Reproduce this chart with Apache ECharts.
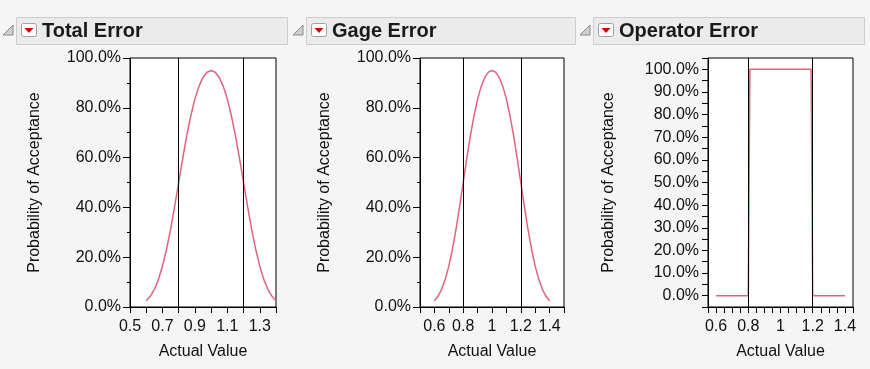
<!DOCTYPE html>
<html>
<head>
<meta charset="utf-8">
<script src="https://cdn.jsdelivr.net/npm/echarts@6/dist/echarts.min.js"></script>
<style>
html,body{margin:0;padding:0;background:#f5f5f5;}
#chart{width:870px;height:369px;}
</style>
</head>
<body>
<div id="chart"></div>
<script>
// ---- data ----
const panelTitles = ['Total Error', 'Gage Error', 'Operator Error'];
const xAxisTitle = 'Actual Value';
const yAxisTitle = 'Probability of Acceptance';
const specLimits = [0.8, 1.2];

const curveX = [0.6, 0.625, 0.65, 0.675, 0.7, 0.725, 0.75, 0.775, 0.8, 0.825, 0.85, 0.875, 0.9, 0.925, 0.95, 0.975,
                1.0, 1.025, 1.05, 1.075, 1.1, 1.125, 1.15, 1.175, 1.2, 1.225, 1.25, 1.275, 1.3, 1.325, 1.35, 1.375, 1.4];
const totalErrorP = [2.5, 4.3, 7.1, 11.0, 16.4, 23.1, 31.2, 40.3, 50.0, 59.7, 68.8, 76.8, 83.5, 88.6, 92.2, 94.3,
                     95.0, 94.3, 92.2, 88.6, 83.5, 76.8, 68.8, 59.7, 50.0, 40.3, 31.2, 23.1, 16.4, 11.0, 7.1, 4.3, 2.5];
const gageErrorP = [2.5, 4.3, 7.1, 11.0, 16.4, 23.1, 31.2, 40.3, 50.0, 59.7, 68.8, 76.8, 83.5, 88.6, 92.2, 94.3,
                    95.0, 94.3, 92.2, 88.6, 83.5, 76.8, 68.8, 59.7, 50.0, 40.3, 31.2, 23.1, 16.4, 11.0, 7.1, 4.3, 2.5];
const operatorX = [0.6, 0.8, 0.81, 1.19, 1.2, 1.4];
const operatorP = [0, 0, 100, 100, 0, 0];

const xTickLabels1 = ['0.5', '0.7', '0.9', '1.1', '1.3'];
const xTickLabels2 = ['0.6', '0.8', '1', '1.2', '1.4'];
const xTickLabels3 = ['0.6', '0.8', '1', '1.2', '1.4'];
const yTickLabels12 = ['0.0%', '20.0%', '40.0%', '60.0%', '80.0%', '100.0%'];
const yTickLabels3 = ['0.0%', '10.0%', '20.0%', '30.0%', '40.0%', '50.0%', '60.0%', '70.0%', '80.0%', '90.0%', '100.0%'];

// ---- layout / style ----
const FONT = 'Liberation Sans, Arial, sans-serif';
const LINE_COLOR = '#e2647a';
const panels = [
  {x: curveX, y: totalErrorP, left: 130, width: 146, xmin: 0.5, xmax: 1.4, xint: 0.1, xl: xTickLabels1,
   ymin: 0, ymax: 100, yint: 20, yl: yTickLabels12, minor: true, ygap: 87, off: 0},
  {x: curveX, y: gageErrorP, left: 420, width: 144, xmin: 0.5, xmax: 1.5, xint: 0.1, xl: xTickLabels2,
   ymin: 0, ymax: 100, yint: 20, yl: yTickLabels12, minor: true, ygap: 87, off: 290},
  {x: operatorX, y: operatorP, left: 708, width: 145, xmin: 0.55, xmax: 1.45, xint: 0.05, xl: xTickLabels3,
   ymin: -5, ymax: 105, yint: 5, yl: yTickLabels3, minor: false, ygap: 91, off: 577}
];
const GRID_TOP = 58, GRID_H = 249;

function fmtX(v) { return String(Math.round(v * 100) / 100); }
function fmtY(v) { return (Math.round(v * 10) / 10).toFixed(1) + '%'; }

const grids = [], xAxes = [], yAxes = [], series = [], graphics = [];
const barRights = [287, 575, 864];

panels.forEach((p, i) => {
  grids.push({left: p.left, top: GRID_TOP, width: p.width, height: GRID_H, show: true,
    backgroundColor: '#ffffff', borderColor: '#000', borderWidth: 1});
  xAxes.push({type: 'value', gridIndex: i, min: p.xmin, max: p.xmax, interval: p.xint,
    name: xAxisTitle, nameLocation: 'middle', nameGap: 37,
    nameTextStyle: {fontFamily: FONT, fontSize: 16, color: '#111'},
    axisLine: {show: true, onZero: false, lineStyle: {color: '#000', width: 1}},
    axisTick: {show: true, length: 6, lineStyle: {color: '#000'}},
    axisLabel: {show: true, fontFamily: FONT, fontSize: 16, color: '#111', margin: 12,
      showMinLabel: true, showMaxLabel: true, hideOverlap: false,
      formatter: v => { const s = fmtX(v); return p.xl.indexOf(s) >= 0 ? s : ''; }},
    splitLine: {show: false}});
  yAxes.push({type: 'value', gridIndex: i, min: p.ymin, max: p.ymax, interval: p.yint,
    name: yAxisTitle, nameLocation: 'middle', nameGap: p.ygap,
    nameTextStyle: {fontFamily: FONT, fontSize: 16, color: '#111'},
    axisLine: {show: true, onZero: false, lineStyle: {color: '#000', width: 1}},
    axisTick: {show: true, length: p.minor ? 7 : 6, lineStyle: {color: '#000'}},
    minorTick: {show: p.minor, splitNumber: 2, length: 3, lineStyle: {color: '#000'}},
    axisLabel: {show: true, fontFamily: FONT, fontSize: 16, color: '#111', margin: 9,
      hideOverlap: false,
      formatter: v => { const s = fmtY(v); return p.yl.indexOf(s) >= 0 ? s : ''; }},
    splitLine: {show: false}});
  // spec limit reference lines (drawn beneath the curve)
  series.push({type: 'line', xAxisIndex: i, yAxisIndex: i, data: [], z: 1, silent: true,
    markLine: {silent: true, symbol: ['none', 'none'], label: {show: false},
      lineStyle: {color: '#000', width: 1, type: 'solid'},
      data: specLimits.map(v => ({xAxis: v}))}});
  series.push({type: 'line', xAxisIndex: i, yAxisIndex: i,
    data: p.x.map((x, k) => [x, p.y[k]]),
    showSymbol: false, symbol: 'none', smooth: false, silent: true,
    lineStyle: {color: LINE_COLOR, width: 1.5}, z: 3});

  // header bar
  const o = p.off;
  graphics.push({type: 'rect', shape: {x: 16.5 + o, y: 17.5, width: barRights[i] - 16 - o, height: 27},
    style: {fill: '#ebebeb', stroke: '#cdcdcd', lineWidth: 1}, silent: true});
  graphics.push({type: 'polygon', shape: {points: [[3 + o, 35], [13 + o, 35], [13 + o, 25]]},
    style: {fill: '#cfcfcf', stroke: '#8a8a8a', lineWidth: 1}, silent: true});
  graphics.push({type: 'rect', shape: {x: 21.5 + o, y: 23.5, width: 15, height: 13, r: 2},
    style: {fill: '#ffffff', stroke: '#a0a0a0', lineWidth: 1}, silent: true});
  graphics.push({type: 'polygon', shape: {points: [[24.5 + o, 28], [33.5 + o, 28], [29 + o, 33]]},
    style: {fill: '#d40000'}, silent: true});
  graphics.push({type: 'text', x: 42 + o, y: 31,
    style: {text: panelTitles[i], font: 'bold 20px ' + FONT, fill: '#1a1a1a',
      textAlign: 'left', textVerticalAlign: 'middle'}, silent: true});
});

const chart = echarts.init(document.getElementById('chart'), null, {renderer: 'canvas'});
chart.setOption({
  animation: false,
  backgroundColor: '#f5f5f5',
  grid: grids, xAxis: xAxes, yAxis: yAxes, series: series,
  graphic: graphics
});
</script>
</body>
</html>
